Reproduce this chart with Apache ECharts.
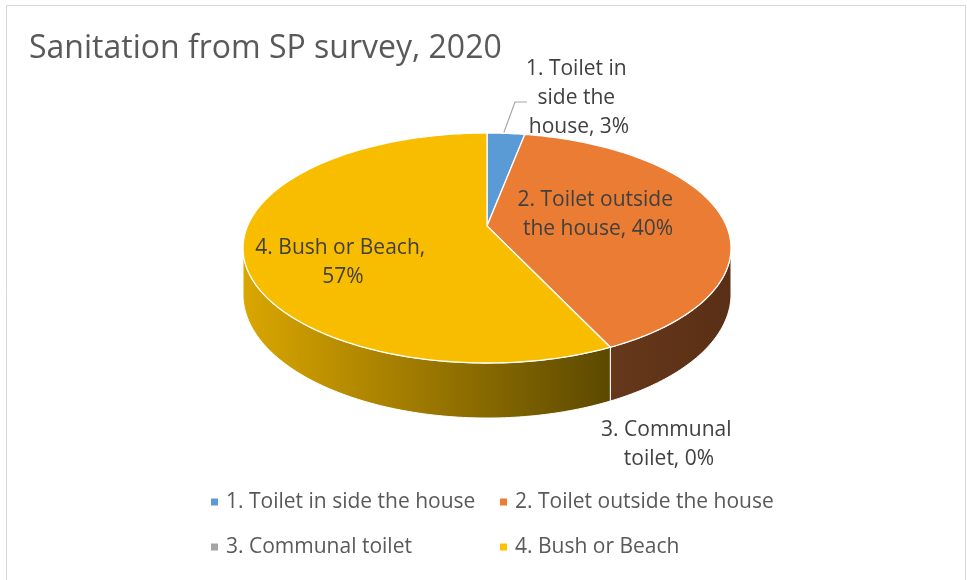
<!DOCTYPE html>
<html>
<head>
<meta charset="utf-8">
<script src="https://cdn.jsdelivr.net/npm/echarts@6/dist/echarts.min.js"></script>
<style>
  html, body { margin: 0; padding: 0; background: #ffffff; }
  #chart { width: 967px; height: 580px; }
</style>
</head>
<body>
<div id="chart"></div>
<script>
// Survey categories and their shares (%)
const categories = [
  '1. Toilet in side the house',
  '2. Toilet outside the house',
  '3. Communal toilet',
  '4. Bush or Beach'
];
const values = [3, 40, 0, 57];

// Legend columns (left column, right column)
const legendLeft = [categories[0], categories[2]];
const legendRight = [categories[1], categories[3]];

// Colours: legend/base colour, lit top face, shaded rim (left -> right)
const baseColors = ['#5B9BD5', '#ED7D31', '#A5A5A5', '#FFC000'];
const topColors = ['#5B9BD5', '#EA7C34', '#A5A5A5', '#F9BD00'];
const rimColors = [
  ['#4A7FB0', '#2E5070'],
  ['#66381B', '#592F15'],
  ['#8A8A8A', '#555555'],
  ['#DAA600', '#5C4900']
];

const FONT = 'Open Sans';

// Label placement (centre of the text block) and wrap width
const labelLayout = [
  { x: 579, y: 98, width: 115, leader: true },
  { x: 598, y: 215, width: 172 },
  { x: 669, y: 445, width: 150 },
  { x: 343, y: 263, width: 188 }
];

// Tilted disc seen in perspective
const geo = { cx: 487, cy: 226, a: 239.5, b: 110.8, k: 0.1913, depth: 44.5 };
const TAU = Math.PI * 2;
const thetaR = Math.acos(-geo.k);     // right silhouette of the rim
const thetaL = TAU - thetaR;          // left silhouette of the rim

function proj(theta, f, drop) {
  const u = Math.sin(theta), v = Math.cos(theta);
  const s = 1 / (1 + geo.k * v * f);
  return [geo.cx + geo.a * u * f * s, geo.cy - geo.b * v * f * s + (drop || 0) * s];
}

function arc(t1, t2, drop) {
  const pts = [];
  const n = Math.max(2, Math.ceil((t2 - t1) / (Math.PI / 180)));
  for (let i = 0; i <= n; i++) pts.push(proj(t1 + (t2 - t1) * i / n, 1, drop));
  return pts;
}

const total = values.reduce((s, v) => s + v, 0);
const starts = [];
values.reduce((acc, v, i) => { starts[i] = acc; return acc + v; }, 0);

function makeRender(idx) {
  return function (params, api) {
    const start = api.value(0), val = api.value(1);
    const t1 = start / total * TAU, t2 = (start + val) / total * TAU;
    const children = [];

    // outer rim (front half only)
    const w1 = Math.max(t1, thetaR), w2 = Math.min(t2, thetaL);
    if (w2 > w1) {
      const topArc = arc(w1, w2, 0);
      const botArc = arc(w1, w2, geo.depth).reverse();
      const xs = topArc.map(p => p[0]);
      const minX = Math.min.apply(null, xs), maxX = Math.max.apply(null, xs);
      children.push({
        type: 'polygon',
        shape: { points: topArc.concat(botArc) },
        style: {
          fill: new echarts.graphic.LinearGradient(minX, 0, maxX, 0, [
            { offset: 0, color: rimColors[idx][0] },
            { offset: 1, color: rimColors[idx][1] }
          ], true),
          stroke: '#ffffff', lineWidth: 1
        }
      });
    }

    // top face
    if (t2 > t1) {
      children.push({
        type: 'polygon',
        shape: { points: [[geo.cx, geo.cy]].concat(arc(t1, t2, 0)) },
        style: { fill: topColors[idx], stroke: '#ffffff', lineWidth: 1.3, lineJoin: 'round' }
      });
    }

    // data label
    const lay = labelLayout[idx];
    children.push({
      type: 'text',
      x: lay.x, y: lay.y, z2: 10,
      style: {
        text: categories[idx] + ', ' + val + '%',
        width: lay.width, overflow: 'break',
        fill: '#404040', font: '21px "' + FONT + '"',
        align: 'center', verticalAlign: 'middle', lineHeight: 29
      }
    });

    if (lay.leader) {
      const p0 = proj((t1 + t2) / 2, 1, 0);
      children.push({
        type: 'polyline', z2: 9,
        shape: { points: [[p0[0] - 2, p0[1] - 1], [lay.x - 64, lay.y + 4], [lay.x - 52, lay.y + 4]] },
        style: { stroke: '#A6A6A6', lineWidth: 1.2, fill: null }
      });
    }

    return { type: 'group', children: children };
  };
}

const series = categories.map((name, i) => ({
  type: 'custom',
  name: name,
  coordinateSystem: 'none',
  itemStyle: { color: baseColors[i] },
  silent: true,
  data: [[starts[i], values[i]]],
  renderItem: makeRender(i)
}));

const legendBase = {
  orient: 'vertical',
  top: 485,
  itemWidth: 7,
  itemHeight: 7,
  itemGap: 21,
  icon: 'rect',
  selectedMode: false,
  textStyle: { fontFamily: FONT, fontSize: 21, color: '#595959', lineHeight: 24, padding: [0, 0, 0, 3] }
};

const chart = echarts.init(document.getElementById('chart'), null, { renderer: 'canvas' });
chart.setOption({
  animation: false,
  backgroundColor: '#ffffff',
  title: {
    text: 'Sanitation from SP survey, 2020',
    left: 24, top: 28,
    textStyle: { fontFamily: FONT, fontSize: 32, fontWeight: 'normal', color: '#595959' }
  },
  legend: [
    Object.assign({}, legendBase, { left: 206, data: legendLeft }),
    Object.assign({}, legendBase, { left: 495, data: legendRight })
  ],
  graphic: [{
    type: 'rect', silent: true, z: -1,
    shape: { x: 6.5, y: 5.5, width: 959, height: 590 },
    style: { fill: null, stroke: '#D9D9D9', lineWidth: 1 }
  }],
  series: series
});
</script>
</body>
</html>
